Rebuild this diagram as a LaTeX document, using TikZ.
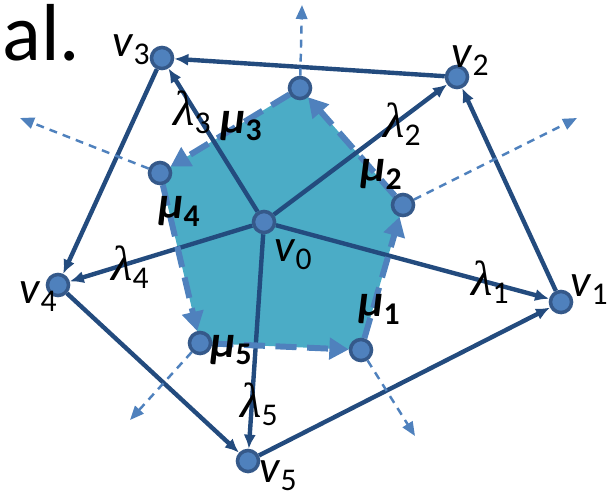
\documentclass[tikz,border=0pt]{standalone}
\usepackage{fontspec}
\setmainfont{Carlito}
\newfontfamily\lamfont{Liberation Serif}
\usetikzlibrary{arrows.meta,backgrounds}
\definecolor{edge}{HTML}{234B7E}
\definecolor{dot}{HTML}{4F81BD}
\definecolor{dotrim}{HTML}{35598A}
\definecolor{cell}{HTML}{4BACC6}
\definecolor{light}{HTML}{4F81BD}
\newcommand{\sub}[1]{\raisebox{-4.5pt}{\fontsize{18}{18}\selectfont #1}}
\newcommand{\lam}[1]{{\lamfont\itshape\fontsize{28}{30}\selectfont λ}\sub{#1}}

\begin{document}
\begin{tikzpicture}[x=0.2mm,y=-0.2mm, every node/.style={font=\fontsize{26}{28}\selectfont},
  pt/.style={circle,fill=dot,draw=dotrim,line width=2pt,minimum size=12pt,inner sep=0pt},
  arr/.style={-{Latex[length=8pt,width=7pt]},draw=edge,line width=2.5pt},
  bord/.style={-{Triangle[length=11pt,width=12pt]},draw=light,line width=3.4pt,dash pattern=on 12pt off 6pt},
  nrm/.style={-{Triangle[length=8pt,width=6.5pt]},draw=light,line width=1.4pt,dash pattern=on 4.5pt off 3.5pt}]
  \useasboundingbox (0,0) rectangle (616,498);
  \node[inner sep=0pt,anchor=base west,font=\fontsize{46}{46}\selectfont] (al) at (2,60) {al.};
  \node[pt] (v0) at (264,222) {};
  \node[pt] (v1) at (561,302) {};
  \node[pt] (v2) at (457,77) {};
  \node[pt] (v3) at (162,58) {};
  \node[pt] (v4) at (58,285) {};
  \node[pt] (v5) at (248,461) {};
  \node[pt] (mu1) at (361,350) {};
  \node[pt] (mu2) at (403,205) {};
  \node[pt] (mu3) at (300,88) {};
  \node[pt] (mu4) at (160,173) {};
  \node[pt] (mu5) at (200,343) {};
  \coordinate (n1) at (415,436);
  \coordinate (n2) at (577,118);
  \coordinate (n3) at (302,5);
  \coordinate (n4) at (20,118);
  \coordinate (n5) at (130,420);
  \begin{scope}[on background layer]
    \fill[cell] (mu1.center) -- (mu2.center) -- (mu3.center) -- (mu4.center) -- (mu5.center) -- cycle;
    \foreach \i in {1,...,5}
      \draw[arr] (v0) -- (v\i);
    \draw[arr] (v1) -- (v2);
    \draw[arr] (v2) -- (v3);
    \draw[arr] (v3) -- (v4);
    \draw[arr] (v4) -- (v5);
    \draw[arr] (v5) -- (v1);
    \draw[bord] (mu5) -- (mu1);
    \draw[bord] (mu1) -- (mu2);
    \draw[bord] (mu2) -- (mu3);
    \draw[bord] (mu3) -- (mu4);
    \draw[bord] (mu4) -- (mu5);
    \foreach \i in {1,...,5}
      \draw[nrm] (mu\i) -- (n\i);
  \end{scope}
  \node (v0l) at (293,255) {\textit{v}\sub{0}};
  \node (v1l) at (589,290) {\textit{v}\sub{1}};
  \node (v2l) at (470,61) {\textit{v}\sub{2}};
  \node (v3l) at (131,50) {\textit{v}\sub{3}};
  \node (v4l) at (38,297) {\textit{v}\sub{4}};
  \node (v5l) at (278,476) {\textit{v}\sub{5}};
  \node (l1) at (490,282) {\lam{1}};
  \node (l2) at (402,124) {\lam{2}};
  \node (l3) at (192,112) {\lam{3}};
  \node (l4) at (130,267) {\lam{4}};
  \node (l5) at (259,404) {\lam{5}};
  \node (m1) at (379,309) {\textbf{\textit{μ}\sub{1}}};
  \node (m2) at (381,174) {\textbf{\textit{μ}\sub{2}}};
  \node (m3) at (241,126) {\textbf{\textit{μ}\sub{3}}};
  \node (m4) at (179,211) {\textbf{\textit{μ}\sub{4}}};
  \node (m5) at (231,350) {\textbf{\textit{μ}\sub{5}}};
\end{tikzpicture}
\end{document}
